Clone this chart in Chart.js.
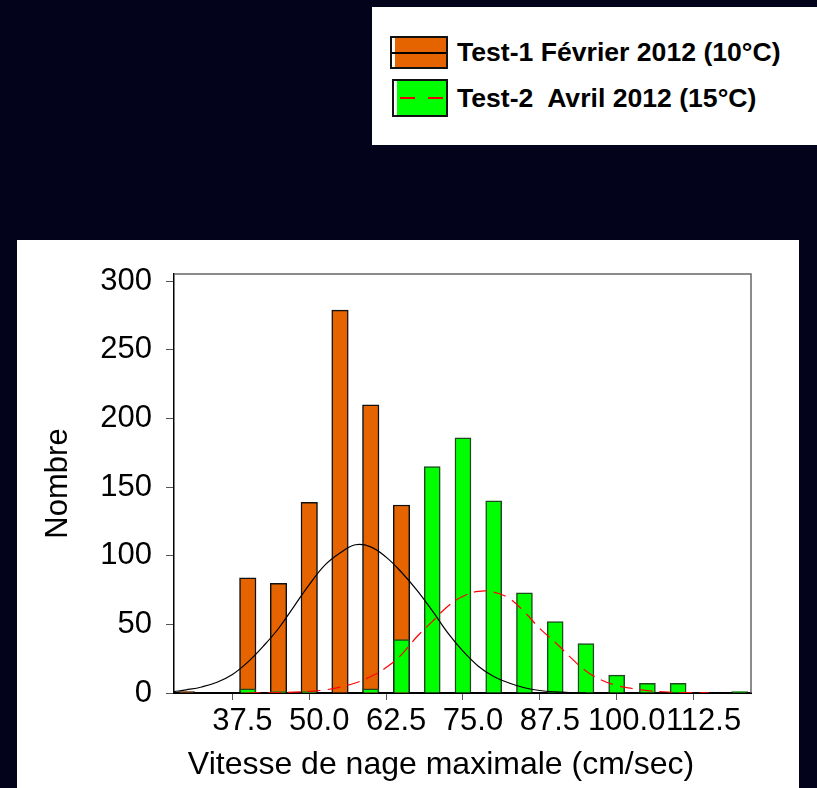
<!DOCTYPE html>
<html>
<head>
<meta charset="utf-8">
<script src="https://cdn.jsdelivr.net/npm/chart.js@4.4.1/dist/chart.umd.min.js"></script>
<style>
  body { margin: 0; width: 817px; height: 788px; overflow: hidden; position: relative;
         background: #03031b; font-family: 'Liberation Sans', Arial, sans-serif; }
  #legend { position: absolute; left: 372px; top: 7px; width: 445px; height: 138px; background: #fff; }
  .swatch { position: absolute; box-sizing: border-box; border: 2px solid #111; }
  .swatch .mid { position: absolute; left: 0; right: 0; top: 50%; height: 2px; margin-top: -1px; }
  .txt { position: absolute; left: 85px; font-weight: bold; font-size: 26.6px; line-height: 30px;
         white-space: pre; color: #000; }
  #panel { position: absolute; left: 17px; top: 240px; width: 782px; height: 548px; background: #fff; }
</style>
</head>
<body>
<div id="legend">
  <div class="swatch" style="left:18px; top:29px; width:58px; height:33px;
       background: linear-gradient(to right, #fff 3px, #e66400 3px);">
    <div class="mid" style="background:#000;"></div>
  </div>
  <div class="txt" style="top:30px;">Test-1 Février 2012 (10°C)</div>
  <div class="swatch" style="left:20px; top:72px; width:56px; height:38px;
       background: linear-gradient(to right, #fff 3px, #00ff00 3px);">
    <div class="mid" style="left:6px; background: repeating-linear-gradient(to right, #e00 0 15px, transparent 15px 28px);"></div>
  </div>
  <div class="txt" style="top:76px;">Test-2  Avril 2012 (15°C)</div>
</div>
<div id="panel"><canvas id="chart" width="782" height="548"></canvas></div>
<script>
// Classes de vitesse (centres, cm/sec)
const bins = [30, 35, 40, 45, 50, 55, 60, 65, 70, 75, 80, 85, 90, 95, 100, 105, 110, 115, 120];
const test1Counts = [1, 0, 84, 80, 139, 279, 210, 137, 0, 0, 0, 0, 0, 0, 0, 0, 0, 0, 0];
const test2Counts = [0, 0, 3, 1, 1, 0, 3, 39, 165, 186, 140, 73, 52, 36, 13, 7, 7, 0, 1];

// Courbes ajustées
const fit1X = [28, 30, 32.5, 35, 37.5, 40, 42.5, 45, 47.5, 50, 52.5, 55, 57.5, 60, 62.5, 65,
               67.5, 70, 72.5, 75, 77.5, 80, 82.5, 85, 87.5, 90, 92.5, 95];
const fit1Y = [1, 2.3, 4.4, 7.8, 13.5, 22.5, 34, 47, 63, 79, 93, 102, 108, 106.5, 99, 88,
               75, 60, 44, 30.5, 19.5, 12, 7.3, 3.8, 1.8, 0.8, 0.3, 0.1];
const fit2X = [40, 42.5, 45, 47.5, 50, 52.5, 55, 57.5, 60, 62.5, 65, 67.5, 70, 72.5, 75, 77.5,
               80, 82.5, 85, 87.5, 90, 92.5, 95, 97.5, 100, 102.5, 105, 107.5, 110, 112.5, 115];
const fit2Y = [0, 0.1, 0.3, 0.6, 1.2, 2.2, 4.3, 7.3, 12, 18.5, 28, 41, 52, 63, 70.5, 74,
               73.5, 69, 59, 47, 37, 26, 16, 9.5, 5.5, 3.3, 1.7, 0.9, 0.4, 0.2, 0.1];

const xTicks = [37.5, 50, 62.5, 75, 87.5, 100, 112.5];
const yTicks = [0, 50, 100, 150, 200, 250, 300];

const pts = (xs, ys) => xs.map((x, i) => ({ x: x, y: ys[i] }));
const FONT = "'Liberation Sans', Arial, sans-serif";

// cadre gris en haut et à droite
const framePlugin = {
  id: 'frame',
  beforeDatasetsDraw(chart) {
    const { ctx, chartArea: a } = chart;
    ctx.save();
    ctx.strokeStyle = '#666';
    ctx.lineWidth = 1.5;
    ctx.beginPath();
    ctx.moveTo(a.left, a.top);
    ctx.lineTo(a.right, a.top);
    ctx.lineTo(a.right, a.bottom);
    ctx.stroke();
    ctx.restore();
  }
};

// titre de l'axe X
const xTitlePlugin = {
  id: 'xTitle',
  afterDraw(chart) {
    const ctx = chart.ctx;
    ctx.save();
    ctx.font = '32px ' + FONT;
    ctx.fillStyle = '#000';
    ctx.textAlign = 'center';
    ctx.textBaseline = 'alphabetic';
    ctx.fillText('Vitesse de nage maximale (cm/sec)', 424, 534);
    ctx.restore();
  }
};

const ctx = document.getElementById('chart').getContext('2d');
new Chart(ctx, {
  type: 'bar',
  data: {
    datasets: [
      {
        type: 'line', label: 'Test-2 ajustement', data: pts(fit2X, fit2Y),
        borderColor: '#ff0000', borderWidth: 1.2, borderDash: [13, 7],
        pointRadius: 0, tension: 0.4, fill: false, order: 0
      },
      {
        type: 'line', label: 'Test-1 ajustement', data: pts(fit1X, fit1Y),
        borderColor: '#000', borderWidth: 1.2,
        pointRadius: 0, tension: 0.4, fill: false, order: 1
      },
      {
        label: 'Test-2  Avril 2012 (15°C)', data: pts(bins, test2Counts),
        backgroundColor: '#00ff00', borderColor: '#1e4a1e', borderWidth: 1.5,
        barThickness: 16, grouped: false, order: 2
      },
      {
        label: 'Test-1 Février 2012 (10°C)', data: pts(bins, test1Counts),
        backgroundColor: '#e66400', borderColor: '#111', borderWidth: 1.5,
        barThickness: 16.5, grouped: false, order: 3
      }
    ]
  },
  options: {
    responsive: false,
    animation: false,
    layout: { padding: { top: 34, right: 48, left: 0, bottom: 0 } },
    plugins: { legend: { display: false }, tooltip: { enabled: false } },
    scales: {
      x: {
        type: 'linear', min: 28, max: 121.85, offset: false,
        afterBuildTicks: s => { s.ticks = xTicks.map(v => ({ value: v })); },
        afterFit: s => { s.height = 95; },
        grid: { drawOnChartArea: false, offset: false, color: '#555', tickLength: 7 },
        border: { color: '#000', width: 2 },
        ticks: {
          font: { family: FONT, size: 31 }, color: '#000', padding: 3, labelOffset: 10,
          maxRotation: 0, autoSkip: false, callback: v => v.toFixed(1)
        }
      },
      y: {
        min: 0, max: 305.3,
        afterBuildTicks: s => { s.ticks = yTicks.map(v => ({ value: v })); },
        afterFit: s => { s.width = 157; },
        grid: { drawOnChartArea: false, color: '#555', tickLength: 8 },
        border: { color: '#000', width: 1.5 },
        ticks: { font: { family: FONT, size: 31 }, color: '#000', padding: 14 },
        title: {
          display: true, text: 'Nombre', color: '#000',
          font: { family: FONT, size: 31 }, padding: { top: 23, bottom: 0 }
        }
      }
    }
  },
  plugins: [framePlugin, xTitlePlugin]
});
</script>
</body>
</html>
